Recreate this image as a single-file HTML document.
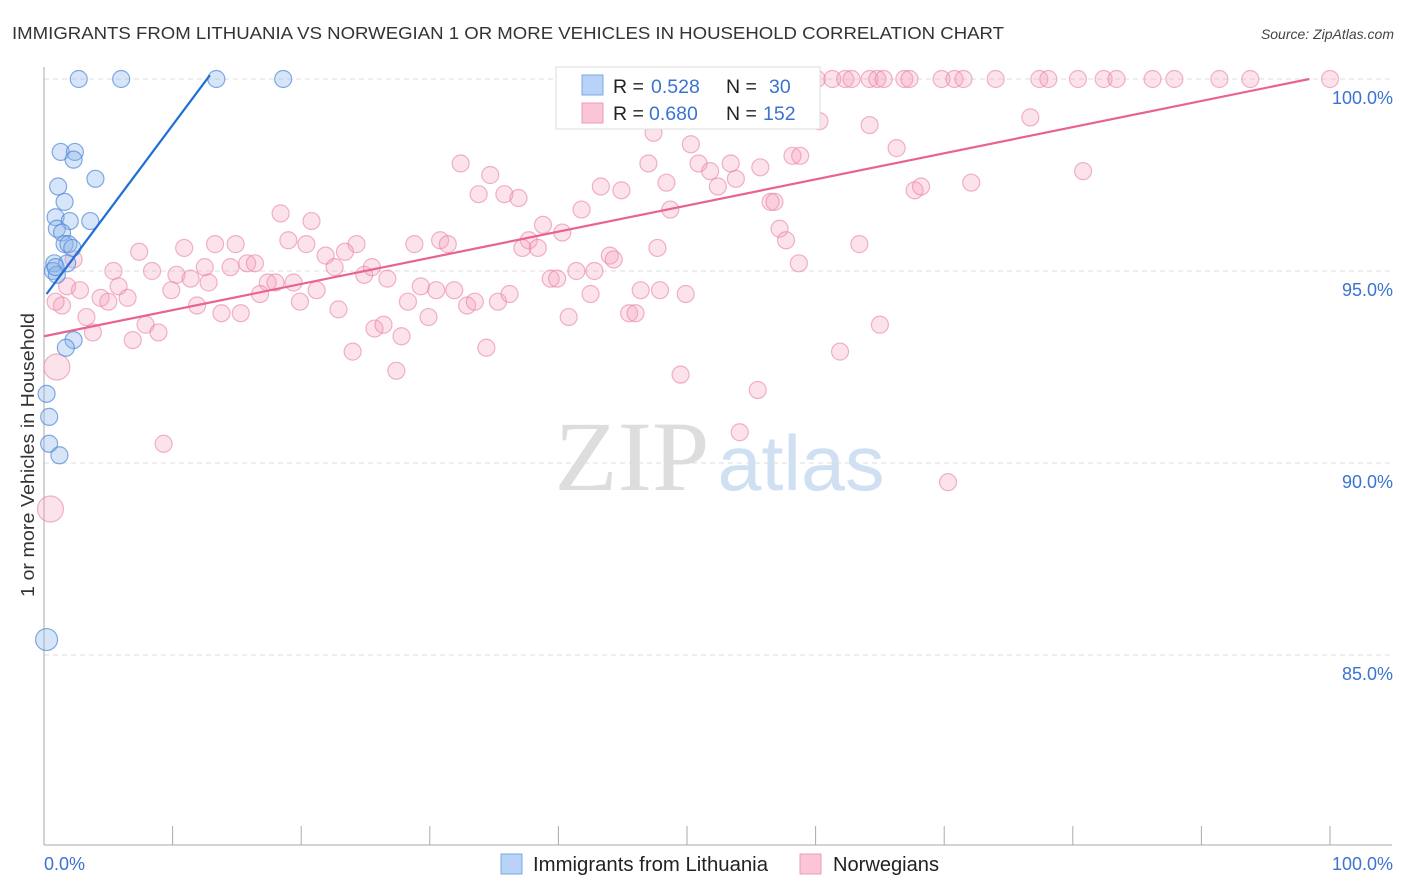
<!DOCTYPE html>
<html><head><meta charset="utf-8"><style>
body{margin:0;background:#fff;font-family:"Liberation Sans",sans-serif;}
svg{display:block}
</style></head><body>
<svg id="chart" width="1406" height="892" xmlns="http://www.w3.org/2000/svg">
<text x="12" y="39" font-size="17.5" fill="#333" textLength="992" lengthAdjust="spacingAndGlyphs">IMMIGRANTS FROM LITHUANIA VS NORWEGIAN 1 OR MORE VEHICLES IN HOUSEHOLD CORRELATION CHART</text>
<text x="1394" y="39" font-size="14" font-style="italic" fill="#444" text-anchor="end">Source: ZipAtlas.com</text>
<text x="34" y="455" font-size="18" fill="#333" text-anchor="middle" textLength="284" lengthAdjust="spacingAndGlyphs" transform="rotate(-90 34 455)">1 or more Vehicles in Household</text>
<g><text x="632" y="490" font-family="Liberation Serif,serif" font-size="100" fill="#ddd" text-anchor="middle" textLength="155" lengthAdjust="spacingAndGlyphs">ZIP</text><text x="801" y="490" font-size="78" fill="#cfe0f3" text-anchor="middle" textLength="167" lengthAdjust="spacingAndGlyphs">atlas</text></g>
<g id="grid"></g><g id="axes"></g><g id="marks"></g>
<g>
<rect x="556" y="67" width="264" height="62" fill="#fff" stroke="#ddd"/>
<rect x="582" y="75" width="21" height="20" fill="#b8d3f5" stroke="#7aa7e6"/>
<rect x="582" y="103" width="21" height="20" fill="#fac5d6" stroke="#ef9ab7"/>
<text x="613" y="93" font-size="19.5" fill="#222">R =</text>
<text x="651" y="93" font-size="19.5" fill="#3b73d1">0.528</text>
<text x="726" y="93" font-size="19.5" fill="#222">N =</text>
<text x="769" y="93" font-size="19.5" fill="#3b73d1">30</text>
<text x="613" y="120" font-size="19.5" fill="#222">R =</text>
<text x="649" y="120" font-size="19.5" fill="#3b73d1">0.680</text>
<text x="726" y="120" font-size="19.5" fill="#222">N =</text>
<text x="763" y="120" font-size="19.5" fill="#3b73d1">152</text>
</g>
<g>
<rect x="501" y="854" width="21" height="20" fill="#b8d3f5" stroke="#7aa7e6"/>
<text x="533" y="871" font-size="20" fill="#222" textLength="235" lengthAdjust="spacingAndGlyphs">Immigrants from Lithuania</text>
<rect x="800" y="854" width="21" height="20" fill="#fac5d6" stroke="#ef9ab7"/>
<text x="833" y="871" font-size="20" fill="#222" textLength="106" lengthAdjust="spacingAndGlyphs">Norwegians</text>
</g>
</svg>
<script>
const yTicks=[100,95,90,85];
const xTickLabels=["0.0%","100.0%"];
const blueX=[2.7,6.0,13.4,18.6,1.3,2.4,2.3,4.0,1.1,1.6,0.9,2.0,3.6,1.0,1.4,1.6,1.9,2.2,0.8,1.8,0.7,1.0,2.3,1.7,0.2,0.4,0.4,1.2,0.2,0.9];
const blueY=[100,100,100,100,98.1,98.1,97.9,97.4,97.2,96.8,96.4,96.3,96.3,96.1,96.0,95.7,95.7,95.6,95.2,95.2,95.0,94.9,93.2,93.0,91.8,91.2,90.5,90.2,85.4,95.1];
const blueBig=[28];
const pinkX=[54.7,55.3,60.1,61.3,62.3,62.8,64.2,64.8,65.3,66.9,67.3,69.8,70.8,71.5,74.0,77.4,78.1,80.4,82.4,83.4,86.2,87.9,91.4,93.8,100,
51.5,47.4,60.3,76.7,64.2,50.3,47.0,50.9,53.4,51.8,55.7,58.2,66.3,32.4,34.7,33.8,35.8,36.9,48.4,52.4,53.8,43.3,44.9,67.7,68.2,72.1,80.8,
18.4,20.8,38.8,40.3,41.8,48.7,56.5,56.8,57.2,57.7,63.4,58.7,7.4,10.9,13.3,14.9,19.0,20.4,21.9,24.3,23.4,28.8,30.8,31.4,37.7,37.2,38.4,44.0,44.3,47.7,
2.3,5.4,8.4,10.3,11.4,12.5,14.5,15.8,16.4,17.4,18.0,19.4,22.6,24.9,25.5,26.7,39.4,39.9,41.4,42.8,1.8,2.8,4.4,5.0,5.8,6.5,9.9,11.9,12.8,13.8,15.3,16.8,19.9,21.2,22.9,
28.3,29.3,30.5,31.9,32.9,33.5,35.3,36.2,42.5,46.4,49.9,1.4,3.3,3.8,6.9,7.9,8.9,24.0,25.7,26.4,27.8,29.9,34.4,40.8,45.5,46.0,65.0,61.9,27.4,49.5,55.5,54.1,9.3,70.3,1.0,0.5,47.9,58.8,0.9];
const pinkY=[100,100,100,100,100,100,100,100,100,100,100,100,100,100,100,100,100,100,100,100,100,100,100,100,100,
99.1,98.6,98.9,99.0,98.8,98.3,97.8,97.8,97.8,97.6,97.7,98.0,98.2,97.8,97.5,97.0,97.0,96.9,97.3,97.2,97.4,97.2,97.1,97.1,97.2,97.3,97.6,
96.5,96.3,96.2,96.0,96.6,96.6,96.8,96.8,96.1,95.8,95.7,95.2,95.5,95.6,95.7,95.7,95.8,95.7,95.4,95.7,95.5,95.7,95.8,95.7,95.8,95.6,95.6,95.4,95.3,95.6,
95.3,95.0,95.0,94.9,94.8,95.1,95.1,95.2,95.2,94.7,94.7,94.7,95.1,94.9,95.1,94.8,94.8,94.8,95.0,95.0,94.6,94.5,94.3,94.2,94.6,94.3,94.5,94.1,94.7,93.9,93.9,94.4,94.2,94.5,94.0,
94.2,94.6,94.5,94.5,94.1,94.2,94.2,94.4,94.4,94.5,94.4,94.1,93.8,93.4,93.2,93.6,93.4,92.9,93.5,93.6,93.3,93.8,93.0,93.8,93.9,93.9,93.6,92.9,92.4,92.3,91.9,90.8,90.5,89.5,92.5,88.8,94.5,98.0,94.2];
const pinkBig=[pinkX.length-5,pinkX.length-4];
const blueTrendX=[0.2,12.9], blueTrendY=[94.4,100.1];
const pinkTrendX=[0,98.4], pinkTrendY=[93.3,100];

const X0=44,X1=1330,YTOP=79,YBOT=845,VMIN=80.05,VMAX=100;
const sx=v=>X0+(v/100)*(X1-X0);
const sy=v=>YTOP+(VMAX-v)/(VMAX-VMIN)*(YBOT-YTOP);
const NS="http://www.w3.org/2000/svg";
function mk(tag,attrs,parent){const e=document.createElementNS(NS,tag);for(const k in attrs)e.setAttribute(k,attrs[k]);parent.appendChild(e);return e;}
const grid=document.getElementById('grid'),axes=document.getElementById('axes'),marks=document.getElementById('marks');
yTicks.forEach(t=>{
  const l=mk('line',{x1:X0,x2:1392,y1:sy(t),y2:sy(t),stroke:'#ddd','stroke-dasharray':'5,4'},grid);
  
  
  const tx=mk('text',{x:1393,y:sy(t)+25,'font-size':18,fill:'#3b73d1','text-anchor':'end'},axes);
  tx.textContent=t.toFixed(1)+'%';
  
  
});
const ya=mk('line',{x1:X0,x2:X0,y1:67,y2:YBOT,stroke:'#aaa'},axes);


const xa=mk('line',{x1:X0,x2:1392,y1:YBOT,y2:YBOT,stroke:'#aaa'},axes);


for(let i=0;i<=10;i++){
  const tk=mk('line',{x1:sx(i*10),x2:sx(i*10),y1:YBOT-19,y2:YBOT,stroke:'#aaa'},axes);
  
  
}
[[0,'start',44],[1,'end',1393]].forEach(([i,a,x])=>{
  const t=mk('text',{x:x,y:870,'font-size':18,fill:'#3b73d1','text-anchor':a},axes);
  t.textContent=xTickLabels[i];
  
  
});
pinkX.forEach((v,i)=>{
  const c=mk('circle',{cx:sx(v),cy:sy(pinkY[i]),r:pinkBig.includes(i)?13:8.5,fill:'rgba(244,160,188,0.3)',stroke:'rgba(232,130,165,0.6)','stroke-width':1.2},marks);
  
  
});
blueX.forEach((v,i)=>{
  const c=mk('circle',{cx:sx(v),cy:sy(blueY[i]),r:blueBig.includes(i)?11:8.5,fill:'rgba(140,180,236,0.35)',stroke:'rgba(80,135,215,0.7)','stroke-width':1.2},marks);
  
  
});
const bl=mk('line',{x1:sx(blueTrendX[0]),y1:sy(blueTrendY[0]),x2:sx(blueTrendX[1]),y2:sy(blueTrendY[1]),stroke:'#1f6fd6','stroke-width':2.2},marks);


const pl=mk('line',{x1:sx(pinkTrendX[0]),y1:sy(pinkTrendY[0]),x2:sx(pinkTrendX[1]),y2:sy(pinkTrendY[1]),stroke:'#e8648f','stroke-width':2.2},marks);


</script>
</body></html>
